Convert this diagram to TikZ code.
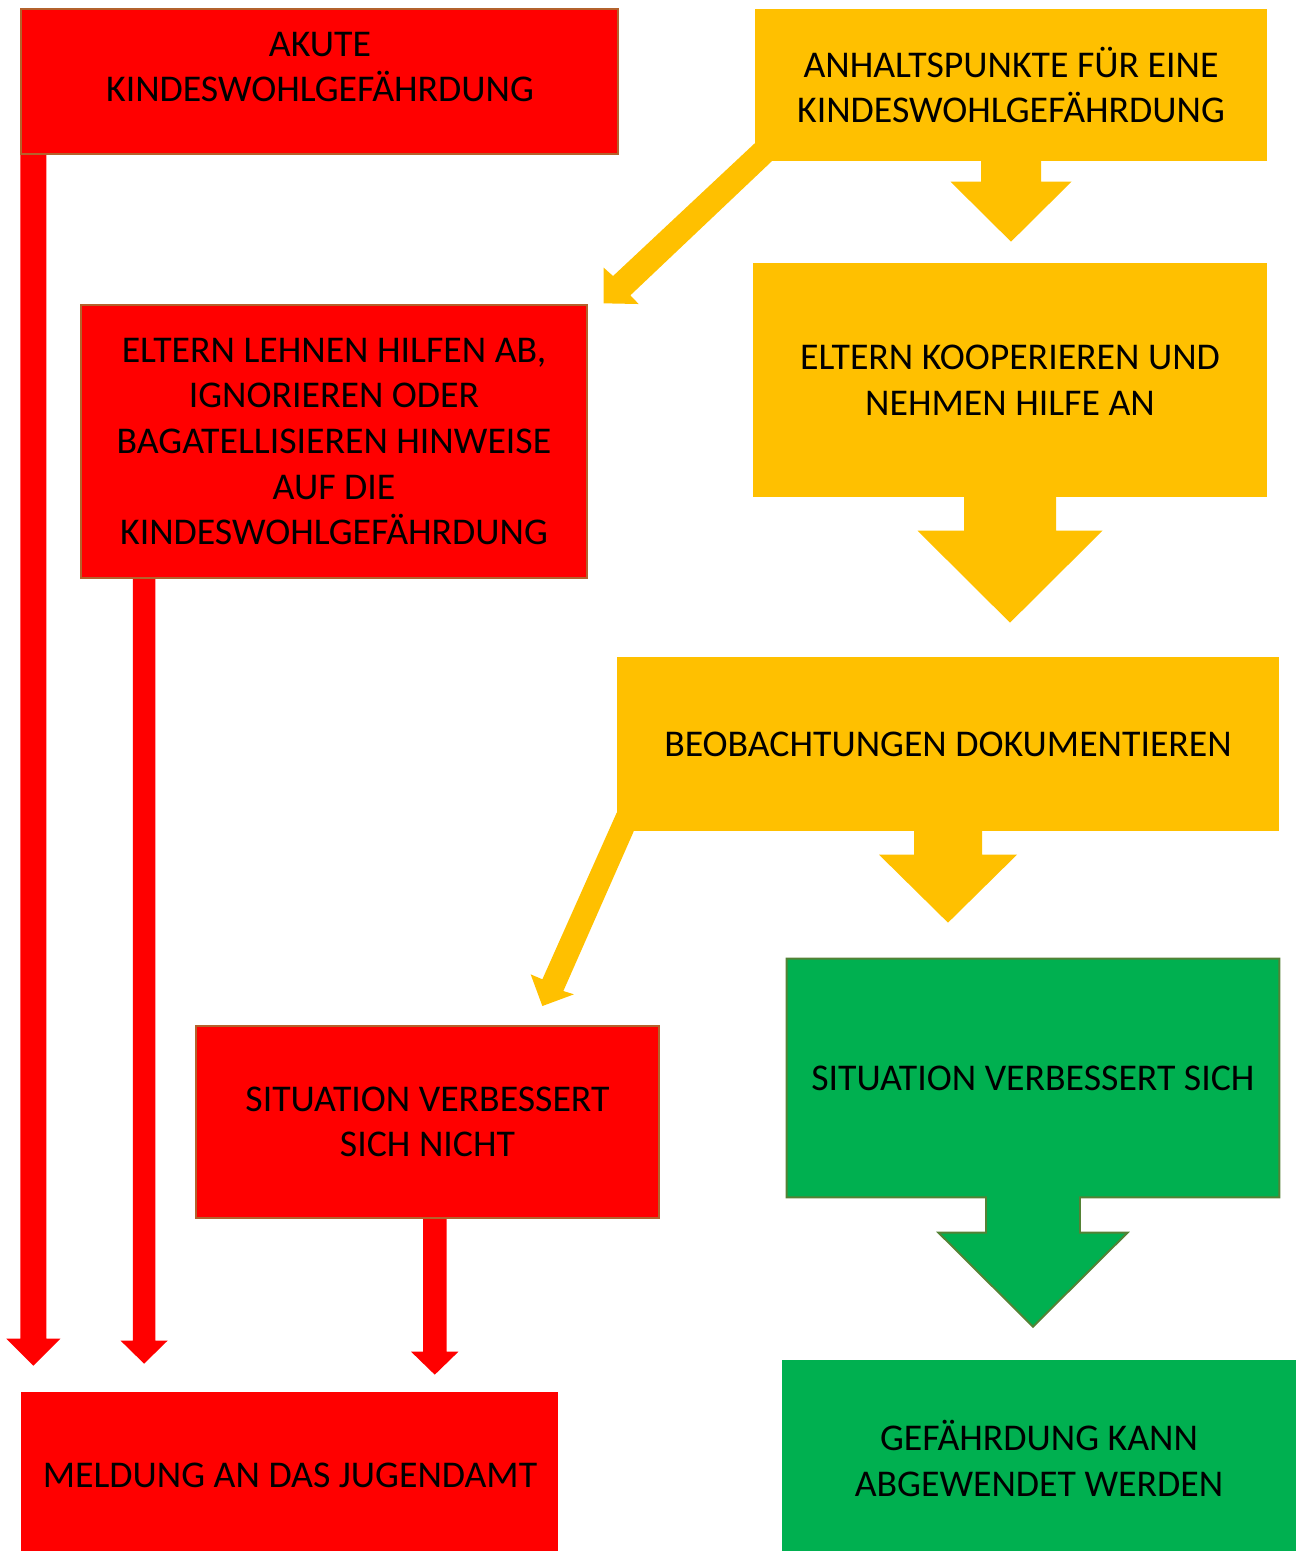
\documentclass[tikz,border=0pt]{standalone}
\usepackage{fontspec}
\setmainfont{Carlito}
\usepackage{tikz}
\usetikzlibrary{positioning}
\usetikzlibrary{calc}

\definecolor{AlarmRed}{HTML}{FF0000}
\definecolor{RedEdge}{HTML}{B4622C}
\definecolor{WarnYellow}{HTML}{FFC000}
\definecolor{SafeGreen}{HTML}{00B050}
\definecolor{GreenEdge}{HTML}{548235}

\pgfdeclarelayer{bg}
\pgfsetlayers{bg,main}

\tikzset{
	flowtext/.style={align=center, inner sep=0pt, text=black, font=\fontsize{21.5pt}{26pt}\selectfont},
	redbox/.style={flowtext, rectangle, fill=AlarmRed, draw=RedEdge, line width=0.8pt},
	yellowbox/.style={flowtext, rectangle, fill=WarnYellow},
	greenbox/.style={flowtext, rectangle, fill=SafeGreen},
	redarrow/.style={fill=AlarmRed},
	yellowarrow/.style={fill=WarnYellow},
}

% block arrow pointing down: [style]{start}{tip}{shaft half width}{head half width}{head length}
\newcommand{\blockdown}[6][]{%
	\path[#1] ($(#2)+(-#4,0)$) -- ($(#2)+(#4,0)$) -- ($(#3)+(#4,-#6)$) -- ($(#3)+(#5,-#6)$)
		-- (#3) -- ($(#3)+(-#5,-#6)$) -- ($(#3)+(-#4,-#6)$) -- cycle;}

\begin{document}
\begin{tikzpicture}[x=0.02cm, y=-0.02cm]
	\useasboundingbox (0,0) rectangle (1296,1551);
	
	% ---------------------
	% Boxes
	\node[redbox, minimum width=11.94cm, minimum height=2.90cm] (akute) at (319.5,81.5) {};
	\node[flowtext] (akuteText) at (320,67) {AKUTE\\KINDESWOHLGEFÄHRDUNG};
	
	\node[yellowbox, minimum width=10.24cm, minimum height=3.04cm] (anhalt) at (1011,85)
		{ANHALTSPUNKTE FÜR EINE\\KINDESWOHLGEFÄHRDUNG};
	
	\node[redbox, minimum width=10.12cm, minimum height=5.46cm] (lehnen) at (334,441.5)
		{ELTERN LEHNEN HILFEN AB,\\IGNORIEREN ODER\\BAGATELLISIEREN HINWEISE\\AUF DIE\\KINDESWOHLGEFÄHRDUNG};
	
	\node[yellowbox, minimum width=10.28cm, minimum height=4.68cm] (kooperieren) at (1010,380)
		{ELTERN KOOPERIEREN UND\\NEHMEN HILFE AN};
	
	\node[yellowbox, minimum width=13.24cm, minimum height=3.48cm] (beob) at (948,744)
		{BEOBACHTUNGEN DOKUMENTIEREN};
	
	\node[flowtext, minimum width=9.84cm, minimum height=4.76cm] (verbessert) at (1033,1078)
		{SITUATION VERBESSERT SICH};
	
	\node[redbox, minimum width=9.26cm, minimum height=3.84cm] (nicht) at (427.5,1122)
		{SITUATION VERBESSERT\\SICH NICHT};
	
	\node[flowtext, fill=AlarmRed, minimum width=10.74cm, minimum height=3.18cm] (meldung) at (289.5,1471.5) {};
	\node[flowtext] (meldungText) at (290,1475) {MELDUNG AN DAS JUGENDAMT};
	
	\node[flowtext, fill=SafeGreen, minimum width=10.28cm, minimum height=3.82cm] (gefahr) at (1039,1455.5) {};
	\node[flowtext] (gefahrText) at (1039,1458.5) {GEFÄHRDUNG KANN\\ABGEWENDET WERDEN};
	
	% ---------------------
	% Arrow ends
	\path (akute.south west) +(13,0) coordinate (akuteOut);
	\path (akuteOut |- meldung.north) +(0,-26) coordinate (akuteTip);
	\path (lehnen.south west) +(63.75,0) coordinate (lehnenOut);
	\path (lehnenOut |- meldung.north) +(0,-28) coordinate (lehnenTip);
	\path (nicht.south) +(7.25,0) coordinate (nichtOut);
	\path (nichtOut |- meldung.north) +(0,-17) coordinate (nichtTip);
	
	\path (anhalt.south |- kooperieren.north) +(0,-21) coordinate (anhaltTip);
	\path (kooperieren.south |- beob.north) +(0,-34) coordinate (kooperierenTip);
	\path (beob.south |- verbessert.north) +(0,-36) coordinate (beobTip);
	\path (verbessert.south |- gefahr.north) +(0,-33) coordinate (verbessertTip);
	
	\path (lehnen.north east) +(16,-1) coordinate (anhaltDiag);
	\path (nicht.north east) +(-117.3,-19.3) coordinate (beobDiag);
	
	% ---------------------
	% Arrows behind the boxes
	\begin{pgfonlayer}{bg}
		\blockdown[redarrow]{akuteOut}{akuteTip}{13}{27}{27}
		\blockdown[redarrow]{lehnenOut}{lehnenTip}{11.25}{23.5}{23}
		\blockdown[redarrow]{nichtOut}{nichtTip}{11.75}{23.7}{23}
		
		\blockdown[yellowarrow]{anhalt.center}{anhaltTip}{30}{60.5}{60}
		\blockdown[yellowarrow]{kooperieren.center}{kooperierenTip}{46}{92.5}{92}
		\blockdown[yellowarrow]{beob.center}{beobTip}{34}{69}{68}
		
		\path[yellowarrow] ($(anhalt.south west)+(0,-18)$) -- ($(anhaltDiag)+(9.4,-27.3)$)
			-- ($(anhaltDiag)+(0,-35.7)$) -- (anhaltDiag) -- ($(anhaltDiag)+(35,0.7)$)
			-- ($(anhaltDiag)+(26.7,-8)$) -- ($(anhalt.south west)+(17,0)$) -- cycle;
		\path[yellowarrow] ($(beob.south west)+(0,-18.7)$) -- ($(beobDiag)+(0,-26.7)$)
			-- ($(beobDiag)+(-11.7,-31.7)$) -- (beobDiag) -- ($(beobDiag)+(31.6,-11.7)$)
			-- ($(beobDiag)+(21,-15)$) -- ($(beob.south west)+(17,0)$) -- cycle;
		
		\filldraw[fill=SafeGreen, draw=GreenEdge, line width=1.1pt, line join=miter]
			(verbessert.north west) -- (verbessert.north east) -- (verbessert.south east)
			-- ($(verbessert.south)+(47,0)$) -- ($(verbessertTip)+(47,-94)$) -- ($(verbessertTip)+(94.5,-94)$)
			-- (verbessertTip) -- ($(verbessertTip)+(-94.5,-94)$) -- ($(verbessertTip)+(-47,-94)$)
			-- ($(verbessert.south)+(-47,0)$) -- (verbessert.south west) -- cycle;
	\end{pgfonlayer}
	
\end{tikzpicture}
\end{document}
